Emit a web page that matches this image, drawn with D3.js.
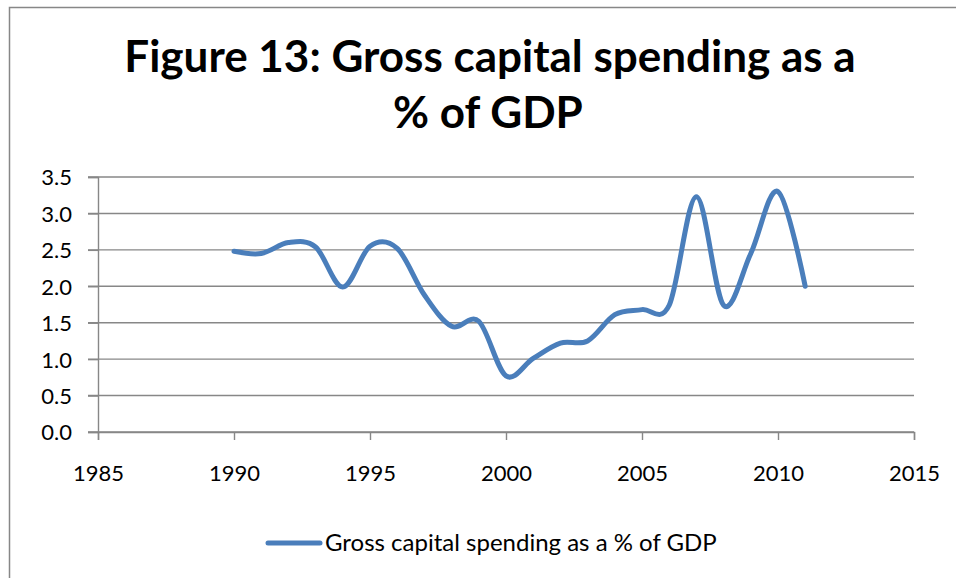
<!DOCTYPE html>
<html>
<head>
<meta charset="utf-8">
<script src="https://cdn.jsdelivr.net/npm/d3@7"></script>
<style>
  html, body { margin: 0; padding: 0; background: #fff; }
  svg { display: block; }
  text { font-family: Lato, "Open Sans", sans-serif; fill: #000; }
</style>
</head>
<body>
<svg id="chart" width="956" height="578"></svg>
<script>
// Gross capital spending as a share of GDP, by year
const years = [1990, 1991, 1992, 1993, 1994, 1995, 1996, 1997, 1998, 1999, 2000,
               2001, 2002, 2003, 2004, 2005, 2006, 2007, 2008, 2009, 2010, 2011];
const spending = [2.48, 2.45, 2.60, 2.54, 1.99, 2.55, 2.52, 1.88, 1.45, 1.52, 0.77,
                  1.01, 1.22, 1.25, 1.61, 1.68, 1.74, 3.23, 1.74, 2.45, 3.30, 2.00];
const xTicks = [1985, 1990, 1995, 2000, 2005, 2010, 2015];
const yTicks = [0, 0.5, 1.0, 1.5, 2.0, 2.5, 3.0, 3.5];
const titleLines = ["Figure 13: Gross capital spending as a", "% of GDP"];
const seriesName = "Gross capital spending as a % of GDP";

const svg = d3.select("#chart");
const lineColor = "#4A7EBB";
const gridColor = "#878787";

// outer frame (top and left edges visible)
svg.append("path")
  .attr("d", "M9.5,578 V7.5 H956")
  .attr("fill", "none")
  .attr("stroke", gridColor)
  .attr("stroke-width", 1.5);

const plot = { left: 98, right: 914, top: 177, bottom: 432 };

const x = d3.scaleLinear().domain([1985, 2015]).range([plot.left, plot.right]);
const y = d3.scaleLinear().domain([0, 3.5]).range([plot.bottom, plot.top]);

// horizontal gridlines, extending left past the axis as tick marks
svg.append("g")
  .selectAll("line")
  .data(yTicks)
  .join("line")
  .attr("x1", plot.left - 10)
  .attr("x2", plot.right)
  .attr("y1", d => y(d))
  .attr("y2", d => y(d))
  .attr("stroke", gridColor)
  .attr("stroke-width", 1.4);

// y axis
const yAxis = svg.append("g")
  .attr("transform", `translate(${plot.left},0)`)
  .call(d3.axisLeft(y).tickValues(yTicks).tickFormat(d3.format(".1f")).tickSize(10).tickPadding(16));
yAxis.select(".domain").attr("stroke", gridColor).attr("stroke-width", 1.4);
yAxis.selectAll(".tick line").attr("stroke", gridColor).attr("stroke-width", 1.4);
yAxis.selectAll(".tick text")
  .style("font-family", "Lato, 'Open Sans', sans-serif")
  .style("font-size", "22px")
  .attr("fill", "#000")
  .attr("dy", "0.36em");

// x axis
const xAxis = svg.append("g")
  .attr("transform", `translate(0,${plot.bottom})`)
  .call(d3.axisBottom(x).tickValues(xTicks).tickFormat(d3.format("d")).tickSize(8).tickPadding(25));
xAxis.select(".domain").attr("stroke", gridColor).attr("stroke-width", 1.4);
xAxis.selectAll(".tick line").attr("stroke", gridColor).attr("stroke-width", 1.4);
xAxis.selectAll(".tick text")
  .style("font-family", "Lato, 'Open Sans', sans-serif")
  .style("font-size", "22px")
  .attr("fill", "#000");

// smoothed series line
const line = d3.line()
  .x((d, i) => x(years[i]))
  .y(d => y(d))
  .curve(d3.curveCardinal.tension(0));

svg.append("path")
  .datum(spending)
  .attr("d", line)
  .attr("fill", "none")
  .attr("stroke", lineColor)
  .attr("stroke-width", 5)
  .attr("stroke-linecap", "round")
  .attr("stroke-linejoin", "round");

// title
const title = svg.append("g");
const t1 = title.append("text")
  .attr("x", 490).attr("y", 72)
  .attr("text-anchor", "middle")
  .style("font-weight", "700")
  .style("font-size", "40px")
  .text(titleLines[0]);
// fit the first line to its intended width, then use the same size for both lines
const target = 735;
const w = t1.node().getComputedTextLength();
const fs = Math.min(44, 40 * target / w);
t1.style("font-size", fs + "px");
title.append("text")
  .attr("x", 488).attr("y", 128)
  .attr("text-anchor", "middle")
  .style("font-weight", "700")
  .style("font-size", fs + "px")
  .text(titleLines[1]);

// legend
const legend = svg.append("g").attr("transform", "translate(0,543)");
legend.append("line")
  .attr("x1", 268).attr("x2", 320)
  .attr("y1", 0).attr("y2", 0)
  .attr("stroke", lineColor)
  .attr("stroke-width", 5)
  .attr("stroke-linecap", "round");
legend.append("text")
  .attr("x", 325).attr("y", 0)
  .attr("dy", "0.35em")
  .style("font-size", "24px")
  .text(seriesName);
</script>
</body>
</html>
